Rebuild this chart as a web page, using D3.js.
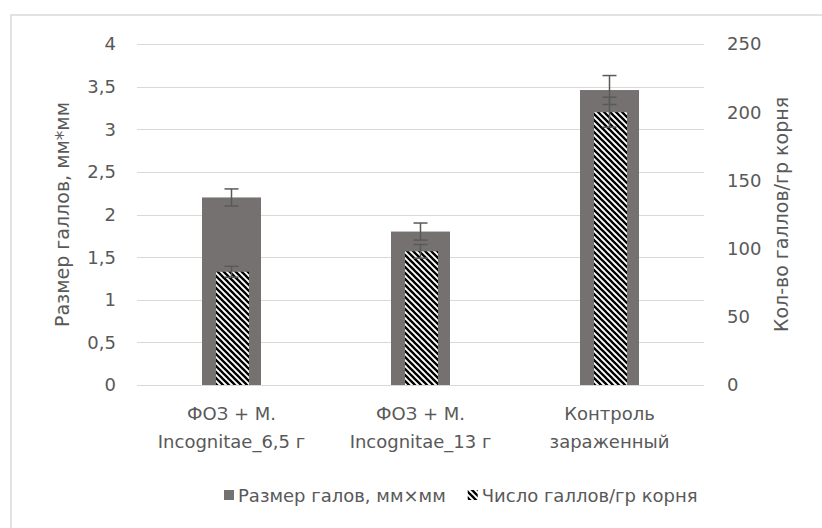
<!DOCTYPE html>
<html><head><meta charset="utf-8">
<script src="https://cdn.jsdelivr.net/npm/d3@7"></script>
<style>body{margin:0;background:#fff}svg{display:block}text{font-family:"DejaVu Sans",sans-serif;fill:#595959}</style>
</head><body><svg width="822" height="528"></svg>
<script>
const categories = [["ФОЗ + М.", "Incognitae_6,5 г"], ["ФОЗ + М.", "Incognitae_13 г"], ["Контроль", "зараженный"]];
const sizeValues = [2.2, 1.8, 3.46];
const sizeErrors = [0.1, 0.1, 0.17];
const countValues = [83, 98, 200];
const countErrors = [4, 5, 11];
const leftTicks = [0, 0.5, 1, 1.5, 2, 2.5, 3, 3.5, 4];
const rightTicks = [0, 50, 100, 150, 200, 250];
const seriesNames = ["Размер галов, мм×мм", "Число галлов/гр корня"];
const leftTitle = "Размер галлов, мм*мм";
const rightTitle = "Кол-во галлов/гр корня";

const svg = d3.select("svg");
const L = 137, R = 704, T = 44, B = 385;
const x = d3.scaleBand().domain(d3.range(categories.length)).range([L, R]);
const yL = d3.scaleLinear().domain([0, 4]).range([B, T]);
const yR = d3.scaleLinear().domain([0, 250]).range([B, T]);
const fmt = d => String(d).replace(".", ",");

const defs = svg.append("defs");
const pat = defs.append("pattern").attr("id", "hatch").attr("patternUnits", "userSpaceOnUse")
  .attr("width", 6).attr("height", 6);
pat.append("rect").attr("width", 6).attr("height", 6).attr("fill", "#fff");
pat.append("path").attr("d", "M-1.5,-1.5L7.5,7.5M-1.5,4.5L1.5,7.5M4.5,-1.5L7.5,1.5")
  .attr("stroke", "#000").attr("stroke-width", 2.3);

// frame
svg.append("rect").attr("x", 11).attr("y", 15).attr("width", 830).attr("height", 530)
  .attr("fill", "none").attr("stroke", "#d9d9d9").attr("stroke-width", 1.5);

// gridlines
svg.append("g").selectAll("line").data(leftTicks).join("line")
  .attr("x1", L).attr("x2", R).attr("y1", d => Math.round(yL(d)) + 0.5).attr("y2", d => Math.round(yL(d)) + 0.5)
  .attr("stroke", "#d9d9d9").attr("stroke-width", 1);

// left tick labels
svg.append("g").selectAll("text").data(leftTicks).join("text")
  .attr("x", 116).attr("y", d => yL(d)).attr("dy", "0.36em").attr("text-anchor", "end")
  .attr("font-size", 18).text(fmt);
// right tick labels
svg.append("g").selectAll("text").data(rightTicks).join("text")
  .attr("x", 727).attr("y", d => yR(d)).attr("dy", "0.36em").attr("text-anchor", "start")
  .attr("font-size", 18).text(d => d);

const bw = 59, hw = 33;
// gray bars
svg.append("g").selectAll("rect").data(sizeValues).join("rect")
  .attr("x", (d, i) => x(i) + x.bandwidth() / 2 - bw / 2).attr("width", bw)
  .attr("y", d => yL(d)).attr("height", d => B - yL(d)).attr("fill", "#767171");
// hatched bars
svg.append("g").selectAll("rect").data(countValues).join("rect")
  .attr("x", (d, i) => x(i) + x.bandwidth() / 2 - hw / 2 + 1).attr("width", hw)
  .attr("y", d => yR(d)).attr("height", d => B - yR(d)).attr("fill", "url(#hatch)");

function errBars(vals, errs, scale, dx) {
  const g = svg.append("g").attr("stroke", "#595959").attr("stroke-width", 1.5);
  vals.forEach((v, i) => {
    const cx = x(i) + x.bandwidth() / 2 + dx;
    const y1 = scale(v + errs[i]), y2 = scale(v - errs[i]);
    g.append("line").attr("x1", cx).attr("x2", cx).attr("y1", y1).attr("y2", y2);
    g.append("line").attr("x1", cx - 7).attr("x2", cx + 7).attr("y1", y1).attr("y2", y1);
    g.append("line").attr("x1", cx - 7).attr("x2", cx + 7).attr("y1", y2).attr("y2", y2);
  });
}
errBars(sizeValues, sizeErrors, yL, 0);
errBars(countValues, countErrors, yR, 0);

// category labels
const cg = svg.append("g");
categories.forEach((c, i) => {
  const t = cg.append("text").attr("text-anchor", "middle").attr("font-size", 18);
  c.forEach((line, j) => t.append("tspan").attr("x", x(i) + x.bandwidth() / 2).attr("y", 420 + j * 28).text(line));
});

// axis titles
svg.append("text").attr("transform", `translate(69,${(T + B) / 2}) rotate(-90)`)
  .attr("text-anchor", "middle").attr("font-size", 19).text(leftTitle);
svg.append("text").attr("transform", `translate(788,${(T + B) / 2}) rotate(-90)`)
  .attr("text-anchor", "middle").attr("font-size", 19).text(rightTitle);

// legend
const lg = svg.append("g");
const fills = ["#767171", "url(#hatch)"];
let lx = 224;
seriesNames.forEach((name, i) => {
  lg.append("rect").attr("x", lx).attr("y", 490).attr("width", 10).attr("height", 10).attr("fill", fills[i]);
  const t = lg.append("text").attr("x", lx + 14).attr("y", 502).attr("font-size", 18).text(name);
  lx += 14 + t.node().getComputedTextLength() + 22;
});
</script></body></html>
